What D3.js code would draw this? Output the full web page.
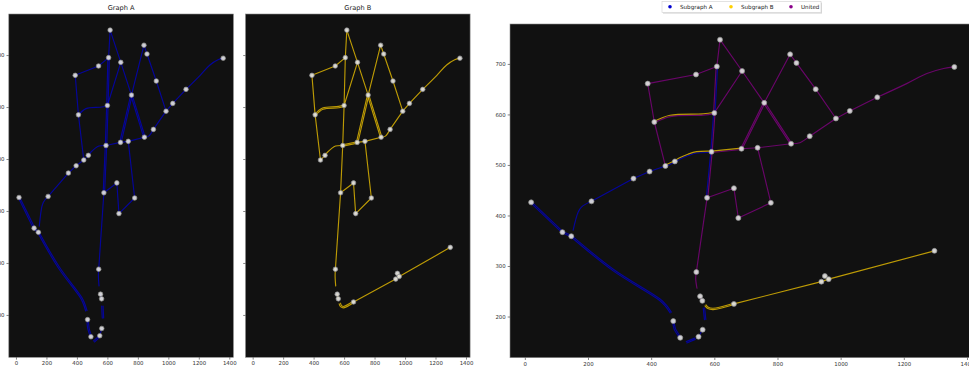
<!DOCTYPE html>
<html>
<head>
<meta charset="utf-8">
<script src="https://cdn.jsdelivr.net/npm/d3@7"></script>
<style>
  body { margin: 0; background: #fff; }
  svg { display: block; font-family: "DejaVu Sans", sans-serif; }
</style>
</head>
<body>
<svg id="chart" width="969" height="371"></svg>
<script>
// tick values
const xTicks = [0, 200, 400, 600, 800, 1000, 1200, 1400];
const yTicks = [200, 300, 400, 500, 600, 700];

// node positions: [id, x, y]
const nodes = [
  ["n1", 618, 748], ["n2", 840, 719], ["n3", 860, 702], ["n4", 608, 695],
  ["n5", 542, 679], ["n6", 688, 686], ["n7", 1360, 694], ["n8", 389, 661],
  ["n9", 921, 650], ["n10", 758, 623], ["n11", 1116, 634], ["n12", 1029, 607],
  ["n13", 985, 592], ["n14", 600, 603], ["n15", 410, 585], ["n16", 902, 557],
  ["n17", 843, 542], ["n18", 686, 532], ["n19", 737, 534], ["n20", 591, 526],
  ["n21", 475, 507], ["n22", 445, 498], ["n23", 395, 487], ["n24", 344, 473],
  ["n25", 662, 454], ["n26", 577, 435], ["n27", 779, 425], ["n28", 211, 428],
  ["n29", 20, 426], ["n30", 676, 395], ["n31", 119, 367], ["n32", 147, 359],
  ["n33", 543, 288], ["n34", 555, 240], ["n35", 562, 231], ["n36", 470, 191],
  ["n37", 563, 174], ["n38", 492, 158], ["n39", 550, 160], ["n40", 662, 225],
  ["n41", 939, 269], ["n42", 950, 280], ["n43", 962, 274], ["n44", 1297, 330]
];

const nodesA = ["n1","n2","n3","n4","n5","n6","n7","n8","n9","n10","n11","n12","n13",
  "n14","n15","n16","n17","n18","n19","n20","n21","n22","n23","n24","n25","n26","n27",
  "n28","n29","n30","n31","n32","n33","n34","n35","n36","n37","n38","n39"];
const nodesB = ["n1","n2","n3","n4","n5","n6","n7","n8","n9","n10","n11","n12","n13",
  "n14","n15","n16","n17","n18","n19","n20","n21","n22","n25","n26","n27","n30",
  "n33","n34","n35","n40","n41","n42","n43","n44"];

// edges: node ids or [x, y] bend points
const edgesShared = [
  ["n8", "n5"], ["n5", "n4"], ["n4", "n1"], ["n1", "n6"], ["n6", "n14"], ["n6", "n10"],
  ["n10", "n2"], ["n2", "n3"], ["n3", "n9"], ["n9", "n13"], ["n13", "n12"], ["n12", "n11"],
  ["n11", [1209, 661], [1273, 681], [1326, 691], "n7"],
  ["n13", "n16"], ["n16", [871, 544], "n17"], ["n17", "n19"], ["n19", "n18"], ["n18", "n20"],
  ["n10", "n18"], ["n10", "n18"], ["n10", "n17"], ["n10", "n17"],
  ["n4", "n14"], ["n14", "n20"], ["n20", "n26"], ["n26", "n33"],
  ["n33", [541, 275], [545, 256]], ["n34", "n35"],
  ["n22", "n15"], ["n15", "n8"], ["n15", [460, 597], [565, 600], "n14"],
  ["n19", "n27"], ["n27", "n30"], ["n30", "n25"], ["n25", "n26"]
];

const edgesOnlyA = [
  ["n4", "n14"], ["n14", "n20"], ["n20", "n26"],
  ["n20", [544, 525], [517, 520], [491, 513], "n21"], ["n21", "n22"],
  ["n22", "n23"], ["n23", "n24"], ["n24", "n28"],
  ["n28", [180, 417], [169, 407], [153, 371]],
  ["n29", "n31"], ["n29", "n31"], ["n31", "n32"], ["n31", "n32"],
  ["n32", [280, 292], [428, 233], [446, 222], [462, 208]],
  ["n32", [280, 292], [428, 233], [446, 222], [462, 208]],
  ["n36", [475, 175], [486, 164], "n38"], ["n36", [475, 175], [486, 164], "n38"],
  [[512, 149], [539, 156]], [[512, 149], [539, 156]],
  ["n39", "n37"],
  [[567, 217], [571, 194]], [[567, 217], [571, 194]]
];

const edgesOnlyB = [
  ["n15", [460, 597], [565, 600], "n14"], ["n18", "n20"],
  ["n20", [544, 525], [517, 520], [491, 513], "n21"], ["n21", "n22"],
  [[572, 222], [580, 217], [596, 215], "n40"], [[572, 222], [580, 217], [596, 215], "n40"],
  ["n40", "n41"], ["n41", "n43"], ["n42", "n43"], ["n43", "n44"]
];

const legendLabels = ["Subgraph A", "Subgraph B", "United"];

const colBlue = "#0000d0", colGold = "#ffd000", colPurple = "#8a008a";
const xDomain = [-47, 1427], yDomain = [118.5, 779];

const svg = d3.select("#chart");
const nodeById = new Map(nodes.map(d => [d[0], [d[1], d[2]]]));

const panels = [
  { title: "Graph A", left: 8.8, right: 233.4, top: 14, bottom: 357.3, yLabels: true,
    layers: [[edgesShared, colBlue], [edgesOnlyA, colBlue]], nodeIds: nodesA, r: 2.3 },
  { title: "Graph B", left: 245.5, right: 470.1, top: 14, bottom: 357.3, yLabels: false,
    layers: [[edgesShared, colGold], [edgesOnlyB, colGold]], nodeIds: nodesB, r: 2.3 },
  { title: null, left: 510, right: 975.5, top: 24, bottom: 357.7, yLabels: true,
    layers: [[edgesShared, colPurple], [edgesOnlyA, colBlue], [edgesOnlyB, colGold]],
    nodeIds: nodes.map(d => d[0]), r: 2.5 }
];

function resolve(p) { return typeof p === "string" ? nodeById.get(p) : p; }
function endKey(p) { return typeof p === "string" ? p : p.join(","); }

function offsetPts(pts, d) {
  if (d === 0) return pts;
  return pts.map((p, i) => {
    const a = pts[Math.max(0, i - 1)], b = pts[Math.min(pts.length - 1, i + 1)];
    const dx = b[0] - a[0], dy = b[1] - a[1];
    const L = Math.hypot(dx, dy) || 1;
    return [p[0] - dy / L * d, p[1] + dx / L * d];
  });
}

panels.forEach((P, pi) => {
  const x = d3.scaleLinear().domain(xDomain).range([P.left, P.right]);
  const y = d3.scaleLinear().domain(yDomain).range([P.bottom, P.top]);

  svg.append("clipPath").attr("id", "clip" + pi)
    .append("rect").attr("x", P.left).attr("y", P.top)
    .attr("width", P.right - P.left).attr("height", P.bottom - P.top);

  svg.append("rect").attr("x", P.left).attr("y", P.top)
    .attr("width", P.right - P.left).attr("height", P.bottom - P.top)
    .attr("fill", "#111111").attr("stroke", "#8a8a8a").attr("stroke-width", 0.6);

  // axes
  const xa = svg.append("g").attr("transform", "translate(0," + P.bottom + ")")
    .call(d3.axisBottom(x).tickValues(xTicks).tickSize(2.3).tickPadding(2).tickFormat(d3.format("d")));
  const ya = svg.append("g").attr("transform", "translate(" + P.left + ",0)")
    .call(d3.axisLeft(y).tickValues(yTicks).tickSize(2.3).tickPadding(2)
      .tickFormat(P.yLabels ? d3.format("d") : ""));
  [xa, ya].forEach(a => {
    a.select(".domain").remove();
    a.selectAll("line").attr("stroke", "#333").attr("stroke-width", 0.6);
    a.selectAll("text").attr("fill", "#333").attr("font-size", 5.4)
      .attr("font-family", "DejaVu Sans, sans-serif");
  });

  if (P.title) {
    svg.append("text").attr("x", (P.left + P.right) / 2).attr("y", 9.6)
      .attr("text-anchor", "middle").attr("font-size", 6.6).attr("fill", "#222")
      .text(P.title);
  }

  // collect drawn edges, group parallels to offset them
  const drawn = [];
  P.layers.forEach(([list, color]) => list.forEach(path => drawn.push({ path, color })));
  const groups = d3.group(drawn, d => {
    const a = endKey(d.path[0]), b = endKey(d.path[d.path.length - 1]);
    return [a, b].sort().join("|");
  });
  groups.forEach(g => g.forEach((d, i) => { d.off = (i - (g.length - 1) / 2) * 1.4; }));

  const line = d3.line().curve(d3.curveCatmullRom.alpha(0.5));
  const gEdges = svg.append("g").attr("clip-path", "url(#clip" + pi + ")");
  drawn.forEach(d => {
    let pts = d.path.map(resolve);
    const a = endKey(d.path[0]), b = endKey(d.path[d.path.length - 1]);
    if (a > b) pts = pts.slice().reverse();
    const px = pts.map(p => [x(p[0]), y(p[1])]);
    gEdges.append("path").attr("d", line(offsetPts(px, d.off)))
      .attr("fill", "none").attr("stroke", d.color).attr("stroke-opacity", 0.72)
      .attr("stroke-width", 1.15).attr("stroke-linecap", "round");
  });

  const shown = new Set(P.nodeIds);
  svg.append("g").attr("clip-path", "url(#clip" + pi + ")")
    .selectAll("circle").data(nodes.filter(d => shown.has(d[0]))).join("circle")
    .attr("cx", d => x(d[1])).attr("cy", d => y(d[2])).attr("r", P.r)
    .attr("fill", "#e4e4e4").attr("fill-opacity", 0.9)
    .attr("stroke", "#8c8c8c").attr("stroke-width", 0.7);
});

// legend above the third panel
const lg = svg.append("g");
lg.append("rect").attr("x", 663).attr("y", 2.6).attr("width", 159).attr("height", 11)
  .attr("fill", "#bbb").attr("opacity", 0.6);
lg.append("rect").attr("x", 662).attr("y", 1.6).attr("width", 159).attr("height", 11)
  .attr("fill", "#fff").attr("stroke", "#d0d0d0").attr("stroke-width", 0.6);
const legendColors = [colBlue, colGold, colPurple];
const legendX = [670, 731, 791];
legendLabels.forEach((t, i) => {
  lg.append("circle").attr("cx", legendX[i]).attr("cy", 6.8).attr("r", 1.8).attr("fill", legendColors[i]);
  lg.append("text").attr("x", legendX[i] + 10).attr("y", 8.8).attr("font-size", 5.6)
    .attr("fill", "#222").text(t);
});
</script>
</body>
</html>
